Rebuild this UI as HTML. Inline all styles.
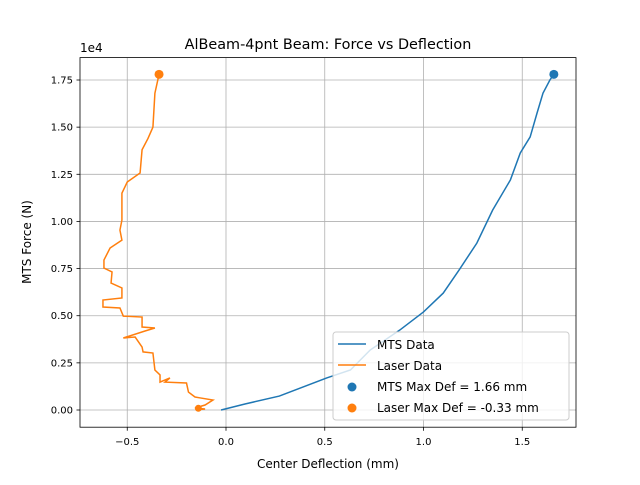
<!DOCTYPE html>
<html><head><meta charset="utf-8"><style>
body{margin:0;background:#fff;font-family:"Liberation Sans","DejaVu Sans",sans-serif}
svg text{font-family:"DejaVu Sans","Liberation Sans",sans-serif}
</style></head><body>
<svg id="chart" width="640" height="480" xmlns="http://www.w3.org/2000/svg">
<rect width="640" height="480" fill="#fff"/>
<g id="grid"></g>
<g id="series"></g>
<rect x="80" y="57.6" width="496" height="369.6" fill="none" stroke="#000" stroke-width="0.8"/>
<g id="ticks"></g>
<text x="328" y="49" font-size="14.4" text-anchor="middle">AlBeam-4pnt Beam: Force vs Deflection</text>
<text x="328" y="468" font-size="12" text-anchor="middle">Center Deflection (mm)</text>
<text transform="translate(31,242) rotate(-90)" font-size="12" text-anchor="middle">MTS Force (N)</text>
<text x="80" y="52" font-size="12">1e4</text>
<g>
<rect x="333" y="332" width="236" height="88" rx="3" fill="#fff" fill-opacity="0.8" stroke="#ccc"/>
<line x1="338" y1="344" x2="366" y2="344" stroke="#1f77b4" stroke-width="1.5"/>
<text x="377" y="349" font-size="12">MTS Data</text>
<line x1="338" y1="365" x2="366" y2="365" stroke="#ff7f0e" stroke-width="1.5"/>
<text x="377" y="370" font-size="12">Laser Data</text>
<circle cx="352" cy="387" r="4.5" fill="#1f77b4"/>
<text x="377" y="391" font-size="12">MTS Max Def = 1.66 mm</text>
<circle cx="352" cy="408" r="4.5" fill="#ff7f0e"/>
<text x="377" y="412" font-size="12">Laser Max Def = -0.33 mm</text>
</g>
</svg>
<script>
const xTicks=[-0.5,0,0.5,1.0,1.5];
const xTickLabels=["−0.5","0.0","0.5","1.0","1.5"];
const yTicks=[0,2500,5000,7500,10000,12500,15000,17500];
const yTickLabels=["0.00","0.25","0.50","0.75","1.00","1.25","1.50","1.75"];
const mtsDef=[-0.025,0.096,0.27,0.51,0.63,0.73,0.88,1.0,1.10,1.18,1.27,1.35,1.44,1.49,1.54,1.575,1.605,1.64,1.66];
const mtsForce=[0,318,740,1700,2120,3180,4240,5200,6200,7420,8850,10600,12200,13630,14480,15750,16800,17500,17800];
const laserDef=[-0.339,-0.36,-0.37,-0.395,-0.425,-0.435,-0.50,-0.527,-0.527,-0.537,-0.527,-0.587,-0.618,-0.618,-0.577,-0.582,-0.527,-0.527,-0.623,-0.623,-0.537,-0.52,-0.425,-0.425,-0.36,-0.41,-0.52,-0.46,-0.425,-0.42,-0.37,-0.36,-0.334,-0.334,-0.284,-0.309,-0.2,-0.19,-0.157,-0.13,-0.066,-0.106,-0.157,-0.106,-0.14];
const laserForce=[17800,16800,15000,14400,13800,12570,12090,11500,10070,9540,9010,8590,7950,7530,7320,6730,6470,5940,5830,5460,5410,4980,4930,4400,4350,4190,3820,3870,3340,3080,3020,2120,1860,1480,1700,1480,1430,950,690,640,530,265,106,53,20];
const mtsMax=[1.66,17800];
const laserMax=[-0.339,17800];
const laserStart=[-0.14,90];
const X=v=>226+197.5*v, Y=f=>410-0.018857*f;
const NS="http://www.w3.org/2000/svg";
function mk(p,t,a){const e=document.createElementNS(NS,t);for(const k in a)e.setAttribute(k,a[k]);document.getElementById(p).appendChild(e);return e;}
xTicks.forEach((v,i)=>{
 const g=mk('grid','line',{x1:X(v),x2:X(v),y1:57.6,y2:427.2,stroke:'#b0b0b0','stroke-width':0.8});
 
 
 const t=mk('ticks','line',{x1:X(v),x2:X(v),y1:427.2,y2:430.7,stroke:'#000','stroke-width':0.8});
 
 
 const l=mk('ticks','text',{x:X(v),y:445,'font-size':10,'text-anchor':'middle'});l.textContent=xTickLabels[i];
 
 
});
yTicks.forEach((v,i)=>{
 const g=mk('grid','line',{x1:80,x2:576,y1:Y(v),y2:Y(v),stroke:'#b0b0b0','stroke-width':0.8});
 
 
 const t=mk('ticks','line',{x1:76.5,x2:80,y1:Y(v),y2:Y(v),stroke:'#000','stroke-width':0.8});
 
 
 const l=mk('ticks','text',{x:73,y:Y(v)+3.5,'font-size':10,'text-anchor':'end'});l.textContent=yTickLabels[i];
 
 
});
const mp=mk('series','polyline',{points:mtsDef.map((v,i)=>X(v)+','+Y(mtsForce[i])).join(' '),fill:'none',stroke:'#1f77b4','stroke-width':1.5});


const lp=mk('series','polyline',{points:laserDef.map((v,i)=>X(v)+','+Y(laserForce[i])).join(' '),fill:'none',stroke:'#ff7f0e','stroke-width':1.5});


const c1=mk('series','circle',{cx:X(mtsMax[0]),cy:Y(mtsMax[1]),r:4.5,fill:'#1f77b4'});


const c2=mk('series','circle',{cx:X(laserMax[0]),cy:Y(laserMax[1]),r:4.5,fill:'#ff7f0e'});


const c3=mk('series','circle',{cx:X(laserStart[0]),cy:Y(laserStart[1]),r:3.5,fill:'#ff7f0e'});


</script>
</body></html>
